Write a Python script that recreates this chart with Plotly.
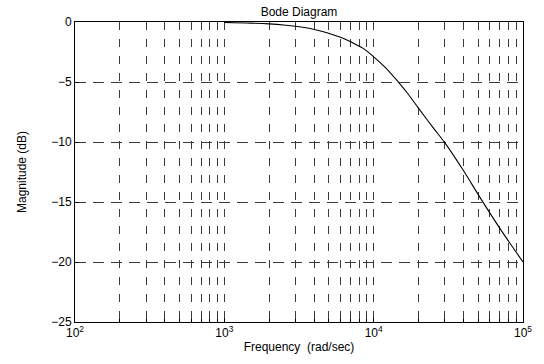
import plotly.graph_objects as go

# Data
freq = [1000, 1500, 2000, 2500, 3000, 4000, 5000, 6000, 7000, 8500, 10000, 12000,
        14500, 17000, 20000, 25000, 30500, 40000, 52000, 70000, 100000]
mag_db = [-0.04, -0.09, -0.16, -0.25, -0.36, -0.62, -0.93, -1.28, -1.65, -2.2, -2.9, -3.8,
          -4.95, -6.0, -7.2, -8.8, -10.2, -12.4, -14.7, -17.2, -20.0]

major_x = [100, 1000, 10000, 100000]
major_x_text = ["10<sup>2</sup>", "10<sup>3</sup>", "10<sup>4</sup>", "10<sup>5</sup>"]
minor_x = [m * d for d in (100, 1000, 10000) for m in range(2, 10)]
y_ticks = [0, -5, -10, -15, -20, -25]

font = "Liberation Sans, Arial, sans-serif"
gridc = "#3a3a3a"

fig = go.Figure()
fig.add_trace(go.Scatter(x=freq, y=mag_db, mode="lines", line=dict(color="black", width=1.1, shape="spline"),
                         showlegend=False, hoverinfo="skip"))

fig.update_layout(
    width=544, height=364,
    margin=dict(l=75, r=16, t=22, b=41),
    paper_bgcolor="white", plot_bgcolor="white",
    font=dict(family=font, size=12, color="black"),
    title=dict(text="Bode Diagram", x=0.5, xref="paper", xanchor="center", y=1.0, yref="container",
               yanchor="top", pad=dict(t=8), font=dict(size=12, family=font, color="black")),
    xaxis=dict(type="log", range=[2, 5], tickmode="array", tickvals=major_x, ticktext=major_x_text,
               showline=True, linecolor="black", linewidth=1, mirror=True,
               ticks="inside", ticklen=4, tickcolor="black",
               showgrid=True, gridcolor=gridc, gridwidth=1, griddash="8px,9px",
               minor=dict(tickmode="array", tickvals=minor_x, ticks="inside", ticklen=3, tickcolor="black",
                          showgrid=True, gridcolor=gridc, gridwidth=1, griddash="8px,9px"),
               title=dict(text="Frequency  (rad/sec)", standoff=3, font=dict(size=12, family=font)),
               zeroline=False),
    yaxis=dict(range=[-25, 0], tickmode="array", tickvals=y_ticks,
               showline=True, linecolor="black", linewidth=1, mirror=True,
               ticks="inside", ticklen=4, tickcolor="black",
               showgrid=True, gridcolor=gridc, gridwidth=1, griddash="11px,7px",
               title=dict(text="Magnitude (dB)", standoff=22, font=dict(size=12, family=font)),
               zeroline=False),
)

fig.write_html("out.html")
